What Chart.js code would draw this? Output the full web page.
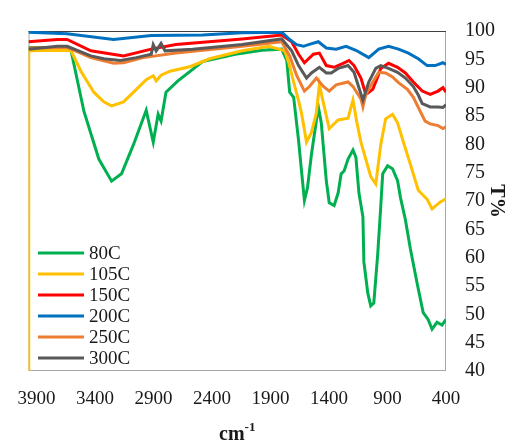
<!DOCTYPE html>
<html>
<head>
<meta charset="utf-8">
<script src="https://cdn.jsdelivr.net/npm/chart.js@4.4.1/dist/chart.umd.min.js"></script>
<style>
  html, body { margin: 0; padding: 0; background: #fff; }
  #wrap { width: 513px; height: 445px; }
</style>
</head>
<body>
<div id="wrap"><canvas id="ir"></canvas></div>
<script>
/* ── Data: [wavenumber cm-1, T%] ── */
const s80C = [
  [3968, 97.1], [3790, 97.1], [3604, 96.5], [3494, 85.8], [3367, 77.4], [3258, 73.5],
  [3173, 74.8], [3072, 79.9], [2962, 86.0], [2902, 80.4], [2860, 85.3], [2835, 84.1],
  [2793, 89.2], [2691, 91.2], [2480, 94.6], [2201, 95.9], [1973, 96.6], [1804, 96.8],
  [1761, 94.8], [1736, 89.2], [1702, 88.3], [1660, 80.7], [1635, 75.3], [1610, 70.1],
  [1584, 72.3], [1550, 78.2], [1491, 86.6], [1466, 83.8], [1423, 73.6], [1398, 69.7],
  [1356, 69.2], [1322, 71.4], [1296, 74.8], [1271, 75.3], [1237, 77.4], [1195, 79.0],
  [1170, 77.7], [1144, 71.4], [1110, 67.2], [1102, 59.3], [1068, 53.7], [1043, 51.5],
  [1017, 52.0], [984, 60.5], [958, 68.9], [941, 74.8], [899, 76.2], [857, 75.7],
  [814, 73.6], [789, 70.6], [747, 66.7], [705, 61.6], [646, 55.4], [595, 50.3],
  [553, 49.1], [519, 47.4], [477, 48.6], [434, 48.1], [400, 49.1]
];
const s105C = [
  [3968, 40.0], [3966, 96.5], [3722, 96.6], [3604, 96.5], [3520, 92.9], [3410, 89.2],
  [3325, 87.5], [3258, 86.8], [3156, 87.5], [3046, 89.7], [2962, 91.4], [2902, 92.1],
  [2877, 91.2], [2835, 92.2], [2759, 92.9], [2590, 93.7], [2421, 95.1], [2142, 96.5],
  [1913, 97.3], [1829, 96.8], [1778, 96.5], [1744, 94.4], [1702, 91.0], [1660, 87.7],
  [1635, 85.5], [1592, 80.4], [1550, 82.1], [1508, 85.5], [1482, 90.5], [1440, 86.6],
  [1398, 82.8], [1322, 84.3], [1237, 84.6], [1195, 87.8], [1161, 83.8], [1127, 80.4],
  [1043, 74.3], [1000, 73.0], [958, 79.9], [916, 84.5], [857, 85.3], [814, 83.8],
  [764, 80.4], [705, 76.5], [637, 71.9], [561, 70.3], [519, 68.6], [451, 69.8], [400, 70.4]
];
const s150C = [
  [3968, 98.1], [3722, 98.5], [3638, 98.5], [3435, 96.5], [3156, 95.6], [2919, 96.8],
  [2708, 97.6], [2142, 98.6], [1804, 99.3], [1719, 98.1], [1660, 95.9], [1610, 94.4],
  [1533, 95.9], [1482, 96.1], [1423, 93.9], [1356, 93.6], [1280, 94.3], [1229, 94.8],
  [1186, 93.9], [1127, 91.7], [1085, 88.8], [1026, 89.7], [984, 91.9], [958, 93.4],
  [891, 94.3], [814, 93.6], [747, 92.6], [679, 91.0], [603, 89.4], [535, 88.8],
  [468, 89.4], [426, 90.0], [400, 89.2]
];
const s200C = [
  [3968, 99.8], [3638, 99.5], [3241, 98.5], [2919, 99.2], [2480, 99.3], [2142, 99.7],
  [1804, 99.8], [1736, 98.5], [1677, 97.6], [1618, 97.3], [1575, 97.6], [1491, 98.1],
  [1423, 97.0], [1339, 96.8], [1254, 97.3], [1170, 96.6], [1060, 95.3], [975, 96.8],
  [891, 97.3], [806, 96.8], [721, 96.1], [637, 95.1], [561, 93.9], [493, 93.9],
  [426, 94.4], [400, 94.1]
];
const s250C = [
  [3968, 97.0], [3722, 97.1], [3638, 97.1], [3435, 95.3], [3241, 94.3], [3156, 94.4],
  [2987, 95.3], [2708, 96.1], [2142, 97.3], [1804, 98.1], [1736, 95.6], [1677, 92.2],
  [1610, 89.4], [1567, 90.2], [1508, 91.7], [1448, 90.2], [1398, 89.4], [1339, 90.5],
  [1237, 91.0], [1195, 90.2], [1127, 88.0], [1110, 86.6], [1085, 88.8], [1026, 91.0],
  [975, 92.7], [916, 92.6], [857, 91.9], [806, 90.9], [730, 89.7], [679, 88.3],
  [620, 85.8], [578, 84.1], [535, 83.6], [468, 83.3], [426, 82.8], [400, 83.1]
];
const s300C = [
  [3968, 96.8], [3722, 97.3], [3638, 97.3], [3435, 95.6], [3325, 95.1], [3181, 94.8],
  [3046, 95.3], [2919, 95.9], [2902, 97.6], [2877, 96.5], [2835, 97.8], [2801, 96.5],
  [2564, 96.8], [2142, 97.6], [1804, 98.6], [1719, 96.5], [1660, 93.9], [1592, 91.7],
  [1550, 92.6], [1482, 93.6], [1423, 92.6], [1381, 92.6], [1322, 93.4], [1237, 93.9],
  [1186, 92.7], [1144, 90.0], [1110, 87.8], [1060, 91.0], [1000, 93.4], [958, 93.9],
  [891, 93.4], [814, 92.7], [747, 91.7], [679, 90.2], [637, 88.7], [603, 87.2],
  [535, 86.6], [468, 86.6], [426, 86.5], [400, 87.0]
];

const seriesNames = ['80C', '105C', '150C', '200C', '250C', '300C'];
const seriesData = [s80C, s105C, s150C, s200C, s250C, s300C];
const seriesColors = ['#00b050', '#ffc000', '#ff0000', '#0070c0', '#ed7d31', '#595959'];

const xTicks = [3900, 3400, 2900, 2400, 1900, 1400, 900, 400];
const X_MIN = 400, X_MAX = 3968;
const Y_MIN = 40, Y_MAX = 100, Y_STEP = 5;

const FONT = "'Liberation Serif', 'Times New Roman', serif";

/* ── Plugins ── */
// plot-area box
const boxPlugin = {
  id: 'box',
  beforeDatasetsDraw(chart) {
    const { ctx, chartArea: a } = chart;
    ctx.save();
    ctx.lineWidth = 1;
    ctx.strokeStyle = '#a6a6a6';
    ctx.strokeRect(a.left + 0.5, a.top + 0.5, a.right - a.left - 1, a.bottom - a.top - 1);
    ctx.strokeStyle = '#404040';
    ctx.beginPath();
    ctx.moveTo(a.left, a.top + 0.5);
    ctx.lineTo(a.right, a.top + 0.5);
    ctx.stroke();
    ctx.restore();
  }
};

// legend inside the plot, lower left
const legendPlugin = {
  id: 'innerLegend',
  afterDraw(chart) {
    const { ctx } = chart;
    ctx.save();
    ctx.font = '19px ' + FONT;
    ctx.textBaseline = 'middle';
    ctx.fillStyle = '#1a1a1a';
    chart.data.datasets.forEach((ds, i) => {
      const y = 253 + i * 21;
      ctx.strokeStyle = ds.borderColor;
      ctx.lineWidth = 3;
      ctx.beginPath();
      ctx.moveTo(38, y);
      ctx.lineTo(84, y);
      ctx.stroke();
      ctx.fillText(ds.label, 89, y + 1);
    });
    ctx.restore();
  }
};

// x title with superscript
const xTitlePlugin = {
  id: 'xTitle',
  afterDraw(chart) {
    const { ctx, chartArea: a } = chart;
    ctx.save();
    ctx.fillStyle = '#1a1a1a';
    ctx.textBaseline = 'alphabetic';
    ctx.font = 'bold 20px ' + FONT;
    const w1 = ctx.measureText('cm').width;
    ctx.font = 'bold 13px ' + FONT;
    const w2 = ctx.measureText('-1').width;
    const x0 = (a.left + a.right) / 2 - (w1 + w2) / 2;
    ctx.font = 'bold 20px ' + FONT;
    ctx.fillText('cm', x0, 440);
    ctx.font = 'bold 13px ' + FONT;
    ctx.fillText('-1', x0 + w1, 431);
    ctx.restore();
  }
};

/* ── Chart ── */
new Chart(document.getElementById('ir'), {
  type: 'line',
  data: {
    datasets: seriesNames.map((name, i) => ({
      label: name,
      data: seriesData[i].map(p => ({ x: p[0], y: p[1] })),
      borderColor: seriesColors[i],
      backgroundColor: seriesColors[i],
      borderWidth: 3,
      pointRadius: 0,
      tension: 0,
      fill: false,
      order: seriesNames.length - 1 - i,
    }))
  },
  options: {
    responsive: true,
    maintainAspectRatio: false,
    animation: false,
    layout: { padding: { left: 24, top: 16, right: 0, bottom: 0 } },
    plugins: {
      legend: { display: false },
      tooltip: { enabled: false },
    },
    scales: {
      x: {
        type: 'linear',
        reverse: true,
        min: X_MIN,
        max: X_MAX,
        grid: { display: false, drawTicks: false },
        border: { display: false },
        afterBuildTicks: s => { s.ticks = xTicks.map(v => ({ value: v })); },
        afterFit: s => { s.height = 74; },
        ticks: {
          autoSkip: false,
          maxRotation: 0,
          padding: 17,
          color: '#1a1a1a',
          font: { family: FONT, size: 19 },
          callback: v => String(v),
        },
      },
      y: {
        position: 'right',
        min: Y_MIN,
        max: Y_MAX,
        grid: { display: false, drawTicks: false },
        border: { display: false },
        afterFit: s => { s.width = 67; },
        ticks: {
          stepSize: Y_STEP,
          padding: 19,
          color: '#1a1a1a',
          font: { family: FONT, size: 20 },
        },
        title: {
          display: true,
          text: 'T%',
          color: '#1a1a1a',
          padding: 5,
          font: { family: FONT, size: 20, weight: 'bold' },
        },
      },
    },
  },
  plugins: [boxPlugin, legendPlugin, xTitlePlugin],
});
</script>
</body>
</html>
